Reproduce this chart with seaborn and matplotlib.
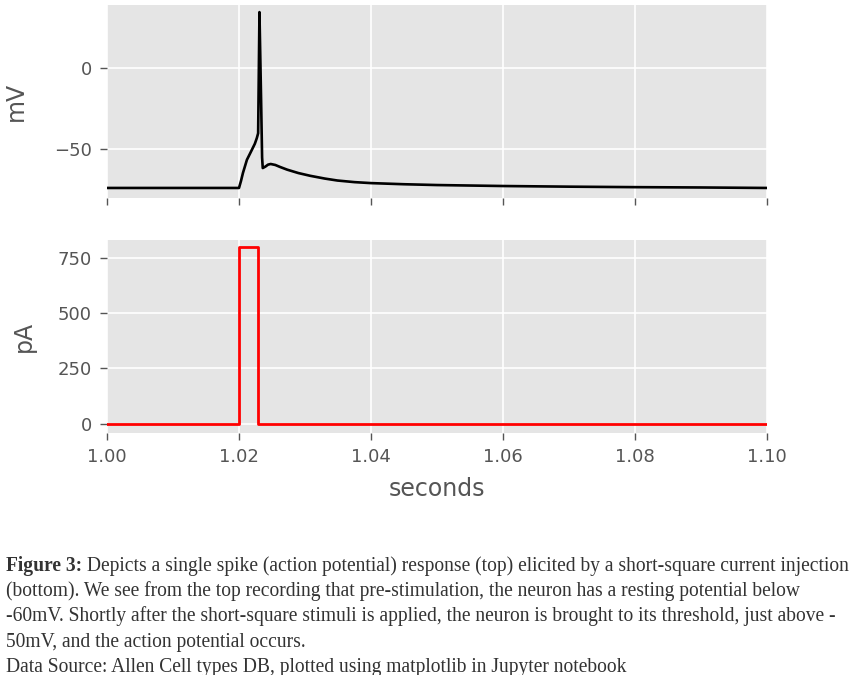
import matplotlib
matplotlib.use("Agg")
import matplotlib.pyplot as plt
import seaborn as sns
import pandas as pd

# ---- data ----
t_mv = [1.0000, 1.0100, 1.0200, 1.0203, 1.0206, 1.0212, 1.0218, 1.0224, 1.0227,
        1.0229, 1.0231, 1.02335, 1.0235, 1.0236, 1.0240, 1.0244, 1.0248, 1.0255,
        1.0262, 1.0273, 1.0290, 1.0308, 1.0330, 1.0349, 1.0375, 1.0400, 1.0450,
        1.0500, 1.0600, 1.0700, 1.0800, 1.0900, 1.1000]
v_mv = [-73.8, -73.8, -73.8, -69.5, -64.5, -56.4, -51.5, -46.5, -43.0,
        -40.0, 34.8, -20.0, -55.0, -61.5, -60.6, -59.4, -59.0, -59.6,
        -60.8, -62.5, -64.6, -66.3, -68.0, -69.2, -70.2, -70.8, -71.5,
        -72.0, -72.6, -73.0, -73.3, -73.5, -73.8]

t_pa = [1.0000, 1.0200, 1.0229, 1.1000]
i_pa = [0, 800, 0, 0]

x_ticks = [1.00, 1.02, 1.04, 1.06, 1.08, 1.10]
mv_ticks = [0, -50]
pa_ticks = [0, 250, 500, 750]

caption_bold = "Figure 3:"
caption_lines = [
    " Depicts a single spike (action potential) response (top) elicited by a short-square current injection",
    "(bottom). We see from the top recording that pre-stimulation, the neuron has a resting potential below",
    "-60mV. Shortly after the short-square stimuli is applied, the neuron is brought to its threshold, just above -",
    "50mV, and the action potential occurs.",
    "Data Source: Allen Cell types DB, plotted using matplotlib in Jupyter notebook",
]

plt.style.use("ggplot")
plt.rcParams["font.family"] = ["DejaVu Sans"]

W, H = 860, 675
fig = plt.figure(figsize=(W / 100, H / 100), dpi=100)

def box(l, t, r, b):
    return [l / W, 1 - b / H, (r - l) / W, (b - t) / H]

ax1 = fig.add_axes(box(107, 4.5, 767, 198))
ax2 = fig.add_axes(box(107, 239.5, 767, 432.7), sharex=ax1)

df_mv = pd.DataFrame({"seconds": t_mv, "mV": v_mv})
df_pa = pd.DataFrame({"seconds": t_pa, "pA": i_pa})

sns.lineplot(data=df_mv, x="seconds", y="mV", ax=ax1, color="black",
             linewidth=1.9, estimator=None, sort=False)
sns.lineplot(data=df_pa, x="seconds", y="pA", ax=ax2, color="#ff0000",
             linewidth=2.0, estimator=None, sort=False, drawstyle="steps-post")

ax1.set_xlim(1.0, 1.1)
ax1.set_ylim(-80.0, 39.5)
ax2.set_ylim(-40, 832)
ax1.set_xticks(x_ticks)
ax1.set_yticks(mv_ticks)
ax2.set_yticks(pa_ticks)
ax2.set_xticklabels([f"{x:.2f}" for x in x_ticks])
ax1.set_yticklabels(["0", "\u221250"])
ax1.tick_params(axis="x", labelbottom=False)

for ax in (ax1, ax2):
    ax.tick_params(axis="both", length=5, width=1, pad=6, labelsize=13,
                   colors="#555555")
    ax.grid(True, color="white", linewidth=1.2)
    ax.set_facecolor("#E5E5E5")
    for s in ax.spines.values():
        s.set_visible(False)

ax1.set_xlabel("")
ax1.set_ylabel("mV", fontsize=17, color="#555555")
ax2.set_ylabel("pA", fontsize=17, color="#555555")
ax2.set_xlabel("seconds", fontsize=17, color="#555555")
ax1.yaxis.set_label_coords(-0.12, 0.5)
ax2.yaxis.set_label_coords(-0.108, 0.5)
ax2.xaxis.set_label_coords(0.5, -0.23)

# ---- caption ----
renderer = fig.canvas.get_renderer()
serif = "Liberation Serif"
fs = 13.3
cap_color = "#333333"
baselines = [570.7, 596.0, 621.3, 646.6, 671.7]
left_px = 6

tb = fig.text(left_px / W, 1 - baselines[0] / H, caption_bold, family=serif,
              weight="bold", fontsize=fs, color=cap_color, va="baseline")
bb = tb.get_window_extent(renderer)
t1 = fig.text(bb.x1 / W, 1 - baselines[0] / H, caption_lines[0], family=serif,
              fontsize=fs, color=cap_color, va="baseline")
b1 = t1.get_window_extent(renderer)
total = b1.x1 - bb.x0
scale = (853 - left_px) / total
fs2 = fs * scale
tb.set_fontsize(fs2)
bb = tb.get_window_extent(renderer)
t1.set_fontsize(fs2)
t1.set_x(bb.x1 / W)
for line, yb in zip(caption_lines[1:], baselines[1:]):
    fig.text(left_px / W, 1 - yb / H, line, family=serif, fontsize=fs2,
             color=cap_color, va="baseline")

fig.savefig("out.png", dpi=100, facecolor="white")
